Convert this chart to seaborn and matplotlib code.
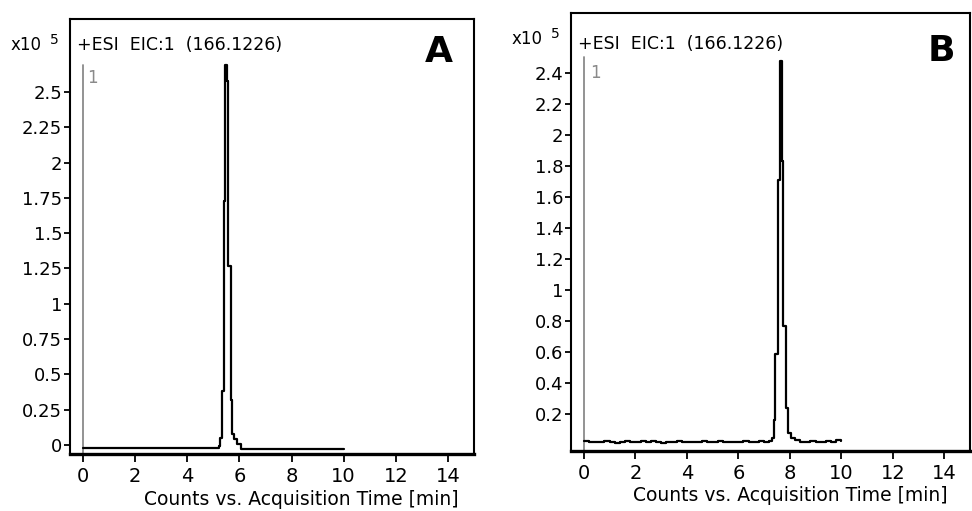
import numpy as np
import pandas as pd
import seaborn as sns
import matplotlib.pyplot as plt
from matplotlib.ticker import FuncFormatter

titre_trace = "+ESI  EIC:1  (166.1226)"
label_x = "Counts vs. Acquisition Time [min]"

# Panneau A : pic à ~5.5 min
temps_a = [0.0, 5.22, 5.27, 5.33, 5.39, 5.45, 5.52, 5.58, 5.66, 5.72, 5.80, 5.90, 6.05, 10.0]
coups_a = [-0.02, -0.01, 0.05, 0.38, 1.73, 2.69, 2.58, 1.27, 0.32, 0.08, 0.04, 0.01, -0.03, -0.03]
yticks_a = [0, 0.25, 0.5, 0.75, 1, 1.25, 1.5, 1.75, 2, 2.25, 2.5]

# Panneau B : pic à ~7.65 min, ligne de base bruitée
temps_b = [0.0, 0.2, 0.4, 0.6, 0.8, 1.0, 1.2, 1.4, 1.6, 1.8, 2.0, 2.2, 2.4, 2.6,
           2.8, 3.0, 3.2, 3.4, 3.6, 3.8, 4.0, 4.2, 4.4, 4.6, 4.8, 5.0, 5.2, 5.4,
           5.6, 5.8, 6.0, 6.2, 6.4, 6.6, 6.8, 7.0, 7.2, 7.30,
           7.37, 7.42, 7.53, 7.61, 7.69, 7.75, 7.84, 7.93, 8.05, 8.20,
           8.4, 8.6, 8.8, 9.0, 9.2, 9.4, 9.6, 9.8, 10.0]
coups_b = [0.025, 0.018, 0.022, 0.016, 0.024, 0.019, 0.014, 0.021, 0.026, 0.017, 0.022, 0.028, 0.020, 0.024,
           0.018, 0.015, 0.022, 0.019, 0.025, 0.017, 0.021, 0.016, 0.019, 0.023, 0.018, 0.021, 0.024, 0.017,
           0.019, 0.022, 0.016, 0.024, 0.020, 0.018, 0.025, 0.021, 0.028, 0.045,
           0.16, 0.59, 1.71, 2.48, 1.83, 0.77, 0.24, 0.08, 0.045, 0.03,
           0.022, 0.018, 0.025, 0.020, 0.017, 0.024, 0.019, 0.032, 0.026]
yticks_b = [0.2, 0.4, 0.6, 0.8, 1, 1.2, 1.4, 1.6, 1.8, 2, 2.2, 2.4]
xticks = [0, 2, 4, 6, 8, 10, 12, 14]

sns.set_style("ticks")
plt.rcParams['font.family'] = ['DejaVu Sans']
plt.rcParams.update({"text.color": "black", "axes.labelcolor": "black",
                     "xtick.color": "black", "ytick.color": "black"})

W, H = 972, 511
fig = plt.figure(figsize=(W / 100, H / 100), dpi=100)


def boite(gauche, haut, droite, bas):
    """Position d'un axe à partir de pixels."""
    return [gauche / W, 1 - bas / H, (droite - gauche) / W, (bas - haut) / H]


panneaux = [
    dict(pos=boite(70, 19, 474, 454), temps=temps_a, coups=coups_a, yticks=yticks_a,
         ylim=(-0.064, 3.017), lettre="A", top_gris=2.69, y_un=2.6, x_un=0.15,
         titre_y=0.940, xlab=(0.573, -0.082), lettre_pos=(439, 52), x10=(42, 44.5)),
    dict(pos=boite(571, 13, 970, 451), temps=temps_b, coups=coups_b, yticks=yticks_b,
         ylim=(-0.039, 2.787), lettre="B", top_gris=2.50, y_un=2.40, x_un=0.26,
         titre_y=0.929, xlab=(0.55, -0.080), lettre_pos=(941, 51), x10=(543, 38.5)),
]

for p in panneaux:
    ax = fig.add_axes(p["pos"])
    df = pd.DataFrame({"temps": p["temps"], "coups": p["coups"]})

    # repère gris du segment "1"
    ax.plot([0, 0], [p["ylim"][0], p["top_gris"]], color="#8a8a8a", lw=1.3)
    ax.text(p["x_un"], p["y_un"], "1", color="#8a8a8a", fontsize=12, va="center", ha="left")

    sns.lineplot(data=df, x="temps", y="coups", ax=ax, color="black", lw=1.6,
                 drawstyle="steps-post", estimator=None, sort=False)

    ax.set_xlim(-0.5, 15)
    ax.set_ylim(*p["ylim"])
    ax.set_xticks(xticks)
    ax.set_yticks(p["yticks"])
    ax.yaxis.set_major_formatter(FuncFormatter(lambda v, _: f"{v:g}"))
    ax.tick_params(axis="y", direction="out", length=4.5, width=1.3, pad=1, labelsize=13, colors="black")
    ax.tick_params(axis="x", direction="out", length=6, width=1.3, pad=3, labelsize=14, colors="black")
    ax.set_ylabel("")
    ax.set_xlabel(label_x, fontsize=13.5, color="black")
    ax.xaxis.set_label_coords(*p["xlab"])

    for cote in ["top", "right", "left"]:
        ax.spines[cote].set_linewidth(1.5)
        ax.spines[cote].set_color("black")
    ax.spines["bottom"].set_linewidth(2.4)
    ax.spines["bottom"].set_color("black")

    ax.text(0.017, p["titre_y"], titre_trace, transform=ax.transAxes, fontsize=12.5,
            va="center", ha="left", color="black")

    lx, ly = p["lettre_pos"]
    fig.text(lx / W, 1 - ly / H, p["lettre"], fontsize=26, fontweight="bold",
             ha="center", va="center", color="black")
    tx, ty = p["x10"]
    fig.text(tx / W, 1 - ty / H, "x10", fontsize=12, ha="right", va="center", color="black")
    fig.text((tx + 8) / W, 1 - (ty - 5) / H, "5", fontsize=10, ha="left", va="center", color="black")

fig.savefig("out.png", dpi=100)
